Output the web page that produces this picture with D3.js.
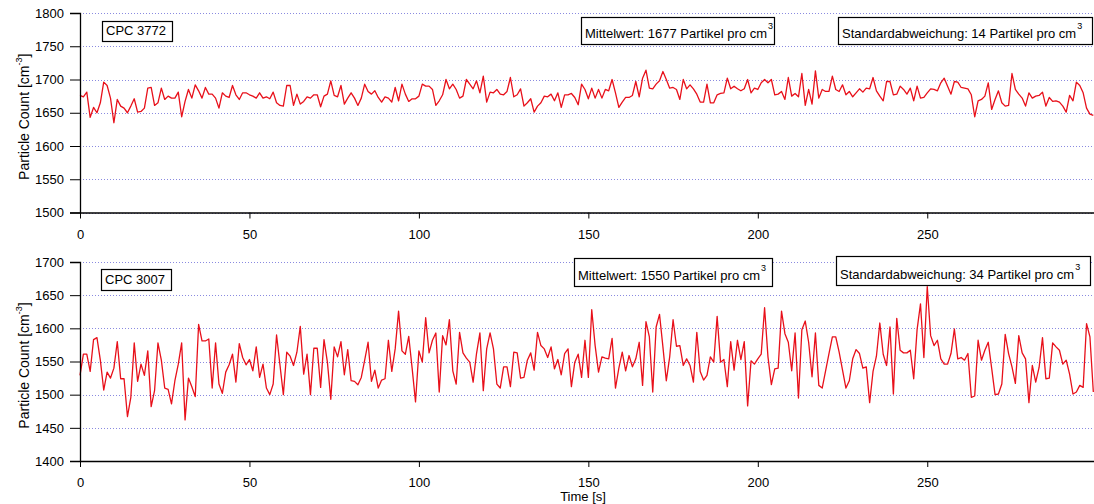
<!DOCTYPE html>
<html>
<head>
<meta charset="utf-8">
<script src="https://cdn.jsdelivr.net/npm/d3@7"></script>
<style>
  body { margin: 0; background: #fff; }
  svg { display: block; }
  text { font-family: "Liberation Sans", Arial, sans-serif; fill: #000; }
</style>
</head>
<body>
<svg id="chart" width="1094" height="504"></svg>
<script>
// Particle counts, one reading per second (0 … 299 s)
const cpc3772 = [
  1676,1674,1681,1643,1658,1650,1665,1696,1691,1672, 1635,1670,1660,1657,1650,1660,1671,1651,1652,1657,
  1687,1688,1661,1665,1687,1670,1675,1672,1672,1681, 1644,1667,1685,1672,1692,1683,1672,1688,1678,1678,
  1672,1657,1680,1675,1673,1691,1677,1670,1680,1680, 1677,1675,1672,1680,1672,1674,1671,1681,1665,1661,
  1660,1691,1691,1661,1678,1663,1667,1674,1672,1677, 1677,1659,1675,1678,1698,1676,1674,1691,1663,1672,
  1680,1672,1661,1672,1693,1682,1678,1683,1673,1666, 1674,1672,1666,1688,1668,1693,1678,1667,1671,1671,
  1675,1693,1690,1690,1685,1661,1668,1677,1700,1686, 1693,1685,1672,1675,1700,1693,1686,1698,1680,1705,
  1666,1681,1680,1685,1678,1677,1682,1703,1674,1677, 1686,1660,1665,1671,1651,1660,1665,1675,1674,1678,
  1668,1680,1658,1677,1677,1679,1673,1662,1693,1685, 1671,1687,1672,1685,1672,1685,1683,1700,1680,1658,
  1666,1673,1673,1676,1697,1674,1702,1714,1687,1686, 1693,1698,1712,1700,1687,1688,1685,1670,1700,1686,
  1692,1686,1678,1666,1666,1693,1665,1665,1677,1679, 1680,1702,1686,1690,1686,1683,1686,1700,1680,1687,
  1685,1695,1700,1695,1700,1677,1678,1682,1670,1703, 1675,1679,1674,1709,1661,1685,1663,1713,1672,1685,
  1682,1682,1705,1685,1682,1692,1677,1682,1674,1680, 1686,1681,1687,1686,1703,1683,1675,1668,1697,1697,
  1677,1678,1690,1685,1678,1687,1668,1690,1672,1673, 1680,1686,1685,1683,1695,1702,1690,1678,1697,1696,
  1688,1687,1686,1677,1644,1668,1670,1675,1695,1655, 1670,1683,1665,1660,1661,1709,1685,1678,1672,1660,
  1680,1672,1675,1676,1681,1660,1673,1667,1668,1666, 1660,1651,1676,1668,1696,1691,1680,1657,1648,1646
];
const cpc3007 = [
  1529,1561,1561,1535,1583,1586,1552,1507,1534,1525, 1540,1580,1524,1524,1467,1496,1578,1520,1546,1529,
  1566,1482,1506,1578,1552,1510,1508,1486,1521,1546, 1578,1462,1525,1512,1497,1606,1581,1581,1584,1510,
  1578,1516,1502,1534,1545,1561,1519,1577,1556,1545, 1553,1536,1572,1526,1546,1510,1500,1516,1590,1545,
  1500,1564,1558,1544,1564,1603,1531,1561,1500,1570, 1570,1511,1583,1549,1493,1572,1557,1580,1530,1568,
  1521,1520,1515,1526,1552,1579,1520,1537,1510,1522, 1524,1582,1535,1569,1626,1566,1561,1588,1540,1489,
  1566,1549,1616,1563,1582,1593,1504,1589,1575,1613, 1536,1516,1594,1563,1555,1549,1519,1562,1593,1506,
  1569,1593,1569,1516,1510,1542,1542,1512,1564,1563, 1525,1526,1552,1563,1537,1594,1574,1569,1556,1572,
  1539,1553,1530,1562,1569,1512,1549,1561,1526,1582, 1526,1628,1574,1534,1557,1555,1554,1585,1510,1540,
  1564,1536,1559,1542,1554,1579,1514,1610,1587,1504, 1602,1621,1572,1521,1557,1613,1573,1574,1544,1554,
  1544,1519,1594,1535,1522,1529,1557,1549,1618,1549, 1553,1512,1580,1537,1582,1553,1580,1483,1551,1546,
  1554,1561,1631,1557,1515,1539,1540,1626,1592,1579, 1536,1593,1495,1598,1611,1579,1527,1593,1514,1510,
  1536,1562,1587,1587,1564,1537,1510,1521,1554,1568, 1562,1540,1542,1488,1535,1558,1608,1561,1544,1602,
  1501,1615,1567,1563,1563,1567,1524,1598,1637,1556, 1663,1589,1574,1582,1554,1546,1546,1562,1599,1554,
  1556,1552,1562,1496,1498,1582,1552,1567,1579,1540, 1500,1501,1516,1591,1562,1542,1517,1589,1563,1554,
  1488,1544,1519,1541,1586,1524,1525,1578,1572,1567, 1546,1552,1531,1501,1504,1514,1511,1607,1587,1504
];

const instruments = ["CPC 3772", "CPC 3007"];
const meanValues = [1677, 1550];
const stdValues = [14, 34];
const yTicks3772 = [1500, 1550, 1600, 1650, 1700, 1750, 1800];
const yTicks3007 = [1400, 1450, 1500, 1550, 1600, 1650, 1700];
const xTicks = [0, 50, 100, 150, 200, 250];
const xLabel = "Time [s]";

const svg = d3.select("#chart");
const W = 1094;
const plotLeft = 80;

const x = d3.scaleLinear().domain([0, 299.2]).range([plotLeft, W]);

const panels = [
  {
    values: cpc3772, ticks: yTicks3772, top: 13, bottom: 212.5,
    name: instruments[0], mean: meanValues[0], std: stdValues[0],
    nameBox: [102, 21, 70, 20], meanBox: [581, 17, 193, 27], stdBox: [838, 17, 254, 27]
  },
  {
    values: cpc3007, ticks: yTicks3007, top: 262, bottom: 461,
    name: instruments[1], mean: meanValues[1], std: stdValues[1],
    nameBox: [101, 269, 70, 21], meanBox: [574, 258, 198, 28], stdBox: [836, 256, 254, 29]
  }
];

panels.forEach((p, i) => {
  const g = svg.append("g");
  const y = d3.scaleLinear()
    .domain([p.ticks[0], p.ticks[p.ticks.length - 1]])
    .range([p.bottom, p.top]);

  // dotted horizontal grid at each major tick
  g.append("g").selectAll("line")
    .data(p.ticks)
    .join("line")
    .attr("x1", plotLeft).attr("x2", W)
    .attr("y1", d => Math.round(y(d)) + 0.5).attr("y2", d => Math.round(y(d)) + 0.5)
    .attr("stroke", "#8a8ae0")
    .attr("stroke-width", 1)
    .attr("stroke-dasharray", "1,2");

  // series line
  const line = d3.line()
    .x((d, k) => x(k))
    .y(d => y(d));
  g.append("path")
    .datum(p.values)
    .attr("fill", "none")
    .attr("stroke", "#e8101a")
    .attr("stroke-width", 1.3)
    .attr("stroke-linejoin", "round")
    .attr("d", line);

  // axes
  const yAxis = d3.axisLeft(y).tickValues(p.ticks).tickSize(10).tickPadding(6).tickFormat(d3.format("d"));
  const ga = g.append("g").attr("transform", `translate(${plotLeft},0)`).call(yAxis);
  ga.select(".domain").attr("stroke", "#000").attr("stroke-width", 1.3);
  ga.selectAll(".tick line").attr("stroke", "#000");
  ga.selectAll("text").attr("font-size", 13).attr("fill", "#000");

  const xAxis = d3.axisBottom(x).tickValues(xTicks).tickSize(6).tickPadding(11).tickSizeOuter(0);
  const gx = g.append("g").attr("transform", `translate(0,${p.bottom})`).call(xAxis);
  gx.select(".domain").attr("stroke", "#000").attr("stroke-width", 1.3);
  gx.selectAll(".tick line").attr("stroke", "#000");
  gx.selectAll("text").attr("font-size", 13).attr("fill", "#000");

  // y-axis title
  const cy = (p.top + p.bottom) / 2 + 4;
  const t = g.append("text")
    .attr("transform", `translate(29,${cy}) rotate(-90)`)
    .attr("text-anchor", "middle")
    .attr("font-size", 14);
  t.append("tspan").text("Particle Count [cm");
  t.append("tspan").attr("font-size", 9).attr("dy", -7).text("-3");
  t.append("tspan").attr("dy", 7).text("]");

  // annotation boxes
  function box(b, parts) {
    const gb = g.append("g");
    gb.append("rect")
      .attr("x", b[0] + 0.5).attr("y", b[1] + 0.5)
      .attr("width", b[2]).attr("height", b[3])
      .attr("fill", "#fff").attr("stroke", "#000").attr("stroke-width", 1.2);
    const tx = gb.append("text")
      .attr("x", b[0] + 4).attr("y", b[1] + b[3] - 6)
      .attr("font-size", 13);
    tx.append("tspan").text(parts[0]);
    if (parts[1]) tx.append("tspan").attr("font-size", 9).attr("dy", -9).attr("dx", 1).text(parts[1]);
  }
  box(p.nameBox, [p.name]);
  box(p.meanBox, [`Mittelwert: ${p.mean} Partikel pro cm`, "3"]);
  box(p.stdBox, [`Standardabweichung: ${p.std} Partikel pro cm`, "3"]);
});

svg.append("text")
  .attr("x", 583).attr("y", 501)
  .attr("text-anchor", "middle")
  .attr("font-size", 13)
  .text(xLabel);
</script>
</body>
</html>
